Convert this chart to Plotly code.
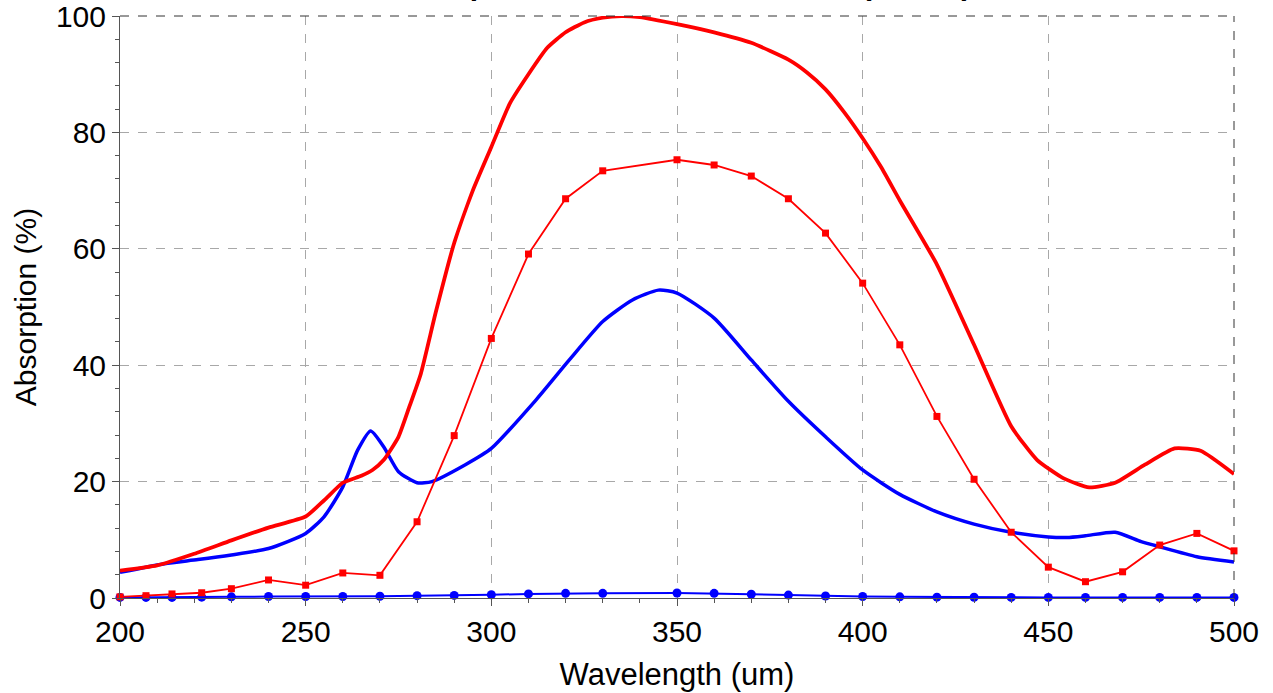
import plotly.graph_objects as go

# Wavelength grid and values for the thick simulated curves
wl_red_thick = [200, 210, 220, 230, 240, 250, 255, 260, 265, 268, 271, 275, 278, 281,
                285, 290, 295, 300, 305, 310, 315, 320, 325, 330, 335, 340, 350, 360,
                370, 380, 385, 390, 395, 400, 405, 410, 420, 430, 440, 447, 454, 461,
                468, 476, 484, 491, 500]
abs_red_thick = [4.7, 5.6, 7.6, 9.9, 12.1, 14.0, 16.8, 19.8, 21.0, 22.0, 23.7, 27.7, 33.0, 38.5,
                 49.0, 61.0, 70.0, 77.5, 85.0, 90.0, 94.5, 97.2, 98.9, 99.7, 100.0, 99.8, 98.6, 97.2,
                 95.4, 92.5, 90.3, 87.4, 83.5, 79.0, 74.0, 68.3, 57.3, 43.5, 29.5, 23.7, 20.6, 19.0,
                 19.8, 22.9, 25.7, 25.3, 21.3]

wl_blue_thick = [200, 212, 221, 230, 240, 250, 255, 260, 264, 267.5, 271, 275, 280, 284,
                 293, 300, 312, 321, 330, 338, 345, 350, 360, 370, 380, 390, 400, 410,
                 420, 430, 440, 450, 455, 460, 468, 475, 480, 490, 500]
abs_blue_thick = [4.4, 5.9, 6.6, 7.4, 8.5, 11.1, 14.0, 19.1, 25.4, 28.7, 26.0, 21.7, 19.8, 20.0,
                  22.9, 25.7, 34.0, 40.9, 47.5, 51.2, 52.9, 52.4, 48.1, 40.9, 33.8, 27.7, 22.0, 17.8,
                  14.8, 12.7, 11.3, 10.5, 10.4, 10.7, 11.3, 9.7, 8.8, 7.1, 6.2]

# Sampled (measured) points drawn with markers
wl_sampled = [200, 207, 214, 222, 230, 240, 250, 260, 270, 280, 290, 300, 310, 320, 330,
              350, 360, 370, 380, 390, 400, 410, 420, 430, 440, 450, 460, 470, 480, 490, 500]
abs_red_sampled = [0.2, 0.4, 0.7, 0.9, 1.6, 3.1, 2.2, 4.3, 3.9, 13.1, 27.9, 44.6, 59.1, 68.6, 73.4,
                   75.3, 74.4, 72.5, 68.6, 62.7, 54.1, 43.5, 31.2, 20.4, 11.3, 5.3, 2.8, 4.5, 9.1, 11.1, 8.1]
abs_blue_sampled = [0.1, 0.1, 0.1, 0.15, 0.2, 0.25, 0.25, 0.25, 0.3, 0.4, 0.45, 0.55, 0.7, 0.8, 0.8,
                    0.85, 0.8, 0.65, 0.5, 0.35, 0.25, 0.2, 0.15, 0.12, 0.1, 0.1, 0.1, 0.1, 0.1, 0.1, 0.1]

x_ticks = [200, 250, 300, 350, 400, 450, 500]
y_ticks = [0, 20, 40, 60, 80, 100]

FONT = "Liberation Sans, Arial, sans-serif"
RED = "#ff0000"
BLUE = "#0000ff"

fig = go.Figure()

fig.add_trace(go.Scatter(
    x=wl_sampled, y=abs_blue_sampled, mode="lines+markers",
    line=dict(color=BLUE, width=2), marker=dict(symbol="circle", size=9, color=BLUE),
    showlegend=False, cliponaxis=False))
fig.add_trace(go.Scatter(
    x=wl_blue_thick, y=abs_blue_thick, mode="lines",
    line=dict(color=BLUE, width=3.5, shape="spline", smoothing=0.6), showlegend=False))
fig.add_trace(go.Scatter(
    x=wl_red_thick, y=abs_red_thick, mode="lines",
    line=dict(color=RED, width=3.8, shape="spline", smoothing=0.5), showlegend=False))
fig.add_trace(go.Scatter(
    x=wl_sampled, y=abs_red_sampled, mode="lines+markers",
    line=dict(color=RED, width=1.8), marker=dict(symbol="square", size=7, color=RED),
    showlegend=False, cliponaxis=False))

axis_common = dict(
    showgrid=True, gridcolor="#a8a8a8", griddash="dash", gridwidth=1,
    zeroline=False, showline=True, linecolor="#555555", linewidth=1,
    ticks="outside", ticklen=7, tickcolor="#555555", tickwidth=1,
    tickfont=dict(family=FONT, size=30, color="#000000"),
    ticklabeloverflow="allow", automargin=False,
)

fig.update_xaxes(
    range=[200, 500], tickmode="array", tickvals=x_ticks,
    minor=dict(dtick=10, ticks="outside", ticklen=4, tickcolor="#555555", showgrid=False),
    title=dict(text="Wavelength (um)", font=dict(family=FONT, size=31, color="#000000"), standoff=16),
    **axis_common)
fig.update_yaxes(
    range=[0, 100], tickmode="array", tickvals=y_ticks,
    minor=dict(dtick=4, ticks="outside", ticklen=4, tickcolor="#555555", showgrid=False),
    title=dict(text="Absorption (%)", font=dict(family=FONT, size=30, color="#000000"), standoff=10),
    **axis_common)

# Dashed frame on the top and right edges of the plotting area
fig.add_shape(type="line", xref="paper", yref="paper", x0=0, x1=1, y0=1, y1=1,
              line=dict(color="#333333", width=1, dash="dash"))
fig.add_shape(type="line", xref="paper", yref="paper", x0=1, x1=1, y0=0, y1=1,
              line=dict(color="#333333", width=1, dash="dash"))

# Chart title sits above the frame, mostly beyond the top edge of the page
fig.add_annotation(
    text="<b>Absorption Rate of Metasurfaces (TE/TM)</b>", xref="paper", yref="paper",
    x=0.5, y=1.0, yshift=13, xanchor="center", yanchor="bottom", showarrow=False,
    font=dict(family=FONT, size=30, color="#000000"))

fig.update_layout(
    width=1273, height=693,
    margin=dict(l=120, r=39, t=16, b=95),
    paper_bgcolor="white", plot_bgcolor="white",
    showlegend=False,
)

fig.write_html("out.html")
